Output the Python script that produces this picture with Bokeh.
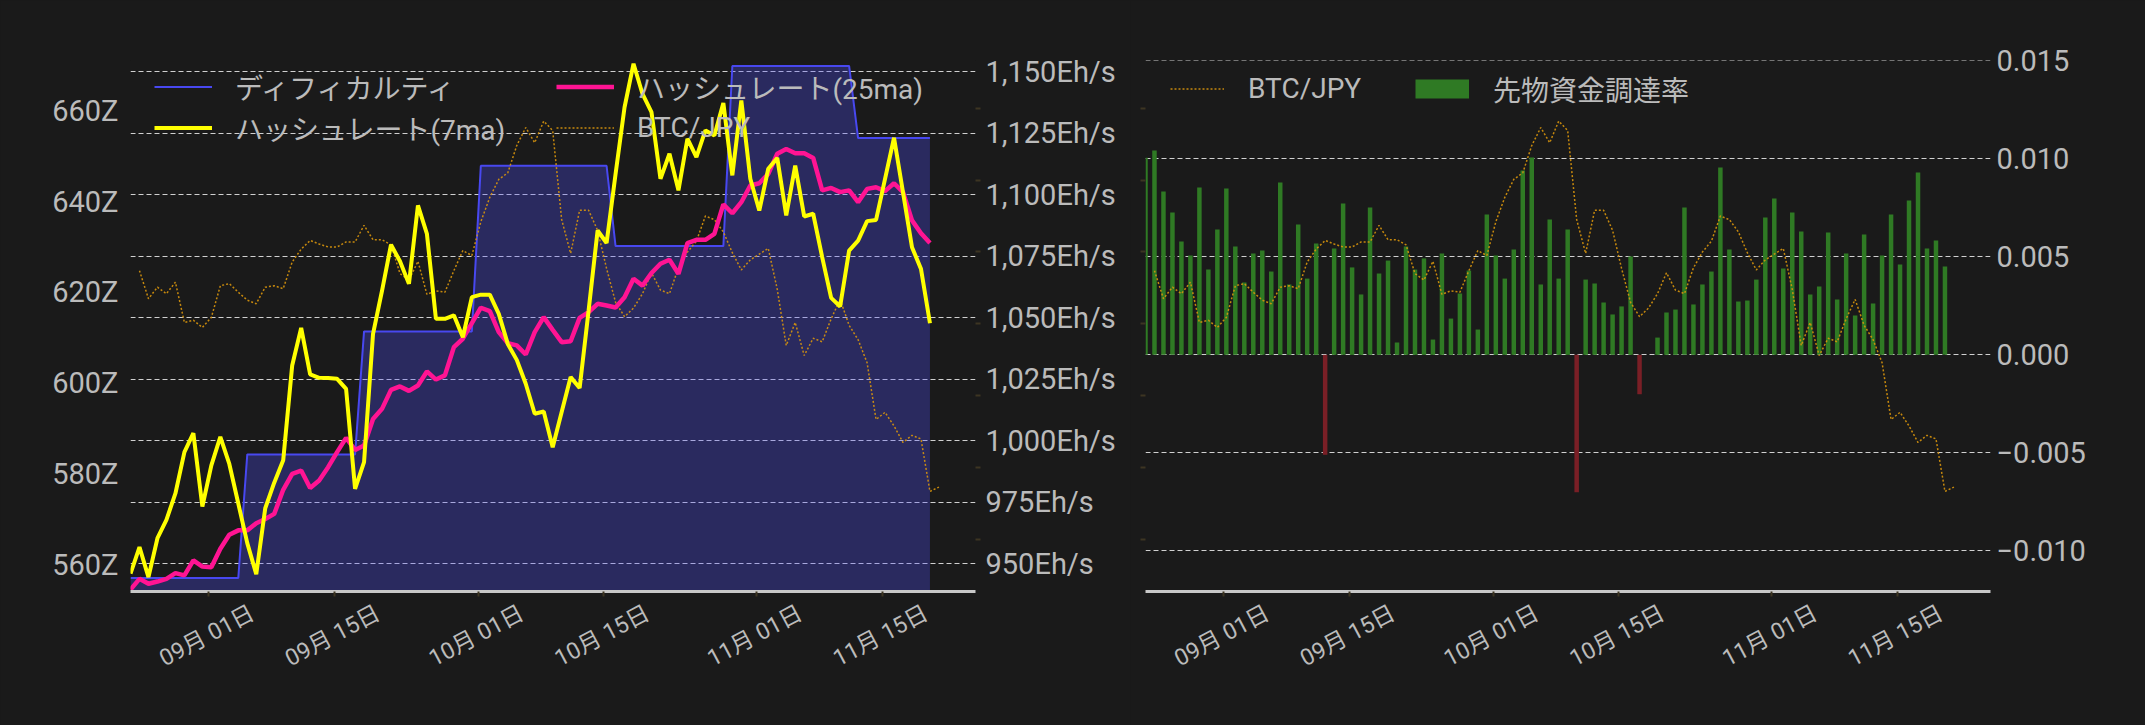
import pandas as pd
from bokeh.plotting import figure
from bokeh.layouts import row
from bokeh.models import (Range1d, LinearAxis, DatetimeAxis, FixedTicker, Grid, Legend,
                          LegendItem, ColumnDataSource)
from bokeh.embed import file_html
from bokeh.resources import INLINE

# ---------------- data ----------------
hash_dates = pd.date_range("2025-08-23 07:00", periods=90, freq="D")
btc_dates = pd.date_range("2025-08-24 07:00", periods=90, freq="D")

hashrate_7ma = [
    946.0, 956.8, 944.6, 960.4, 967.9, 978.6, 995.4, 1003.1, 973.3, 990.0,
    1001.6, 990.6, 974.5, 958.4, 945.8, 972.6, 983.0, 992.1, 1030.6, 1045.9,
    1027.0, 1025.6, 1025.5, 1025.2, 1021.1, 980.5, 991.3, 1043.5, 1061.0, 1079.7,
    1073.0, 1063.8, 1095.7, 1084.1, 1049.6, 1049.6, 1051.0, 1042.1, 1058.4, 1059.4,
    1059.4, 1051.6, 1039.4, 1032.9, 1023.2, 1011.0, 1011.9, 997.4, 1011.7, 1025.9,
    1021.5, 1053.0, 1085.5, 1080.4, 1108.5, 1135.6, 1153.3, 1141.0, 1133.6, 1106.5,
    1116.7, 1101.8, 1122.8, 1115.3, 1126.2, 1124.1, 1137.3, 1107.9, 1138.3, 1106.5,
    1093.6, 1110.6, 1115.0, 1091.6, 1111.9, 1091.2, 1092.3, 1074.7, 1058.1, 1054.6,
    1077.3, 1081.4, 1089.3, 1089.8, 1106.5, 1123.2, 1101.0, 1078.7, 1069.9, 1047.8,
]
hashrate_25ma = [
    939.5, 943.9, 941.9, 942.8, 943.9, 946.2, 945.3, 951.4, 948.9, 948.6,
    956.1, 961.8, 963.6, 963.6, 966.5, 968.2, 970.3, 980.1, 986.6, 987.9,
    980.8, 983.9, 989.3, 995.4, 1001.2, 996.3, 998.1, 1008.9, 1013.0, 1020.7,
    1022.1, 1020.3, 1022.5, 1028.2, 1024.9, 1026.6, 1038.1, 1041.5, 1047.8, 1054.1,
    1052.7, 1044.2, 1039.7, 1038.8, 1035.1, 1044.2, 1050.3, 1045.1, 1040.1, 1040.5,
    1050.0, 1052.3, 1055.7, 1055.0, 1054.2, 1058.4, 1065.9, 1063.1, 1068.2, 1072.0,
    1073.6, 1067.9, 1080.4, 1081.7, 1081.7, 1084.1, 1096.1, 1092.5, 1097.0, 1103.8,
    1104.7, 1108.5, 1116.7, 1118.6, 1116.9, 1116.9, 1115.0, 1101.8, 1102.8, 1101.1,
    1101.8, 1097.0, 1102.4, 1103.1, 1101.5, 1104.7, 1101.1, 1089.6, 1084.4, 1080.4,
]
difficulty_z = ([557.1] * 13 + [584.3] * 13 + [611.4] * 13 + [647.9] * 15
                + [630.2] * 13 + [669.9] * 14 + [654.0] * 9)
btc_jpy_m = [
    16.74, 16.35, 16.51, 16.42, 16.58, 16.02, 16.05, 15.95, 16.09, 16.53,
    16.56, 16.44, 16.33, 16.28, 16.51, 16.53, 16.49, 16.86, 17.04, 17.16,
    17.11, 17.07, 17.07, 17.14, 17.14, 17.37, 17.17, 17.17, 17.10, 16.70,
    16.61, 16.87, 16.41, 16.46, 16.44, 16.74, 17.02, 16.95, 17.42, 17.76,
    18.01, 18.10, 18.48, 18.73, 18.52, 18.82, 18.69, 17.45, 16.98, 17.58,
    17.58, 17.30, 16.77, 16.30, 16.10, 16.22, 16.42, 16.71, 16.47, 16.42,
    16.78, 17.00, 17.15, 17.50, 17.45, 17.28, 16.99, 16.75, 16.89, 16.97,
    17.05, 16.48, 15.70, 16.02, 15.56, 15.80, 15.75, 16.07, 16.34, 15.98,
    15.78, 15.46, 14.67, 14.77, 14.58, 14.35, 14.45, 14.40, 13.67, 13.73,
]
funding_rate = [
    0.01005, 0.01043, 0.00833, 0.00726, 0.00578, 0.00507, 0.00854, 0.00435, 0.00639, 0.00849,
    0.00553, 0.00369, 0.00517, 0.00532, 0.00425, 0.00879, 0.00359, 0.00665, 0.00389, 0.00568,
    -0.00510, 0.00543, 0.00772, 0.00446, 0.00308, 0.00752, 0.00415, 0.00481, 0.00063, 0.00553,
    0.00435, 0.00492, 0.00078, 0.00517, 0.00185, 0.00313, 0.00430, 0.00129, 0.00716, 0.00507,
    0.00389, 0.00537, 0.00940, 0.01007, 0.00359, 0.00690, 0.00389, 0.00639, -0.00701, 0.00384,
    0.00364, 0.00267, 0.00206, 0.00247, 0.00502, -0.00201, 0.0, 0.00088, 0.00216, 0.00231,
    0.00752, 0.00257, 0.00359, 0.00425, 0.00956, 0.00537, 0.00272, 0.00277, 0.00384, 0.00701,
    0.00798, 0.00440, 0.00726, 0.00629, 0.00308, 0.00349, 0.00624, 0.00282, 0.00517, 0.00201,
    0.00614, 0.00262, 0.00507, 0.00716, 0.00461, 0.00787, 0.00930, 0.00543, 0.00583, 0.00451,
]

tick_dates = ["2025-09-01", "2025-09-15", "2025-10-01", "2025-10-15", "2025-11-01", "2025-11-15"]
tick_labels = ["09月 01日", "09月 15日", "10月 01日", "10月 15日", "11月 01日", "11月 15日"]
hash_ticks = [950, 975, 1000, 1025, 1050, 1075, 1100, 1125, 1150]
z_ticks = [560, 580, 600, 620, 640, 660]
btc_ticks = [13, 14, 15, 16, 17, 18, 19]
fund_ticks = [-0.010, -0.005, 0.0, 0.005, 0.010, 0.015]
fund_labels = ["\u22120.010", "\u22120.005", "0.000", "0.005", "0.010", "0.015"]

# ---------------- ranges / style ----------------
HASH_MIN, HASH_MAX = 938.75, 1154.6
Z_MIN, Z_MAX = 554.1, 671.1
BTC_MIN, BTC_MAX = 12.278, 19.663
FUND_MIN, FUND_MAX = -0.012075, 0.015017
X_SPAN_DAYS = 94.07
LABEL_SHIFT_DAYS = 4.88     # rotated labels are anchored at their right end; centre them on the tick

BG = "#1a1a1a"
TXT = "#bbbbbb"
TICK_DARK = "#3d3522"
GRID = "#d0d0d0"
GREEN = "#2f7a24"
RED = "#7a1f26"
FONT = "Roboto, 'Noto Sans CJK JP', sans-serif"
H = 725
W1, W2 = 1130, 1015
FRAME_L1, FRAME_R1 = 130, 975
FRAME_L2, FRAME_R2 = 1145 - W1, 1990 - W1
FRAME_T, FRAME_B = 60, 591

x_start = hash_dates[0]
x_end = x_start + pd.Timedelta(days=X_SPAN_DAYS)
shift = pd.Timedelta(days=LABEL_SHIFT_DAYS)
tick_ms = [pd.Timestamp(d).timestamp() * 1000.0 for d in tick_dates]
BAR_W = 0.5 * 86400000.0


def base_fig(width, yr, ml, mr):
    p = figure(width=width, height=H, x_axis_type="datetime",
               x_range=Range1d(x_start, x_end), y_range=yr, y_axis_location=None,
               output_backend="svg", toolbar_location=None,
               min_border_left=ml, min_border_right=mr,
               min_border_top=FRAME_T, min_border_bottom=H - FRAME_B,
               background_fill_color=BG, border_fill_color=BG, outline_line_color=None)
    p.xgrid.visible = False
    p.ygrid.visible = False
    ax = p.xaxis[0]
    ax.ticker = FixedTicker(ticks=tick_ms)
    ax.major_label_overrides = {t: "" for t in tick_ms}
    ax.major_label_text_font_size = "0px"
    ax.major_label_standoff = 0
    ax.axis_line_color = "#c8c8c8"
    ax.axis_line_width = 3
    ax.major_tick_line_color = TICK_DARK
    ax.major_tick_line_width = 2
    ax.major_tick_out = 5
    ax.major_tick_in = 0
    ax.minor_tick_line_color = None
    # label axis (same tick dates, shifted range so the rotated text is centred on the tick)
    p.extra_x_ranges = {"lbl": Range1d(x_start - shift, x_end - shift)}
    lax = DatetimeAxis(x_range_name="lbl", ticker=FixedTicker(ticks=tick_ms),
                       major_label_overrides=dict(zip(tick_ms, tick_labels)),
                       major_label_orientation=0.49, axis_line_color=None,
                       major_tick_line_color=None, minor_tick_line_color=None,
                       major_tick_out=0, major_tick_in=0, major_label_standoff=15,
                       major_label_text_font=FONT, major_label_text_font_size="23px",
                       major_label_text_color=TXT)
    p.add_layout(lax, "below")
    return p


def value_axis(ticks, labels, range_name, standoff):
    return LinearAxis(y_range_name=range_name, ticker=FixedTicker(ticks=ticks),
                      major_label_overrides=dict(zip(ticks, labels)),
                      axis_line_color=None, major_tick_line_color=None,
                      minor_tick_line_color=None, major_tick_out=0, major_tick_in=0,
                      major_label_standoff=standoff, major_label_text_font=FONT,
                      major_label_text_font_size="29px", major_label_text_color=TXT)


def hidden_btc_axis():
    return LinearAxis(y_range_name="btc", ticker=FixedTicker(ticks=btc_ticks),
                      major_label_overrides={t: "" for t in btc_ticks},
                      major_label_text_font_size="0px",
                      axis_line_color=None, major_tick_line_color=TICK_DARK,
                      major_tick_line_width=2, major_tick_out=5, major_tick_in=0,
                      minor_tick_line_color=None, major_label_standoff=0)


def legend(items, loc, **kw):
    return Legend(items=items, location=loc, padding=0, margin=0, border_line_color=None,
                  background_fill_alpha=0, label_text_font=FONT, label_text_font_size="28px",
                  label_text_color=TXT, glyph_height=47, label_height=47, **kw)


# ---------------- left chart ----------------
p1 = base_fig(W1, Range1d(HASH_MIN, HASH_MAX), FRAME_L1, W1 - FRAME_R1)
p1.extra_y_ranges = {"z": Range1d(Z_MIN, Z_MAX), "btc": Range1d(BTC_MIN, BTC_MAX)}
p1.add_layout(Grid(dimension=1, ticker=FixedTicker(ticks=hash_ticks), grid_line_color=GRID,
                   grid_line_dash="5 3", grid_line_width=1))

src1 = ColumnDataSource(dict(x=hash_dates, h7=hashrate_7ma, h25=hashrate_25ma, diff=difficulty_z))
srcb = ColumnDataSource(dict(x=btc_dates, btc=btc_jpy_m))

p1.varea(x="x", y1=Z_MIN, y2="diff", source=src1, y_range_name="z",
         fill_color=(80, 80, 255), fill_alpha=0.3)
r_diff = p1.line("x", "diff", source=src1, y_range_name="z", line_color="#4848f0", line_width=2)
r_btc1 = p1.line("x", "btc", source=srcb, y_range_name="btc", line_color="#d8950c",
                 line_width=1.5, line_dash="2 2", line_alpha=0.9)
r_h25 = p1.line("x", "h25", source=src1, line_color="#ff1493", line_width=4.5)
r_h7 = p1.line("x", "h7", source=src1, line_color="#ffff00", line_width=4)

p1.add_layout(value_axis(z_ticks, [f"{t}Z" for t in z_ticks], "z", 12), "left")
p1.add_layout(hidden_btc_axis(), "right")
p1.add_layout(value_axis(hash_ticks, [f"{t:,}Eh/s" for t in hash_ticks], "default", 5), "right")

lkw = dict(glyph_width=58, label_standoff=23)
p1.add_layout(legend([LegendItem(label="ディフィカルティ", renderers=[r_diff])], (24, 481), **lkw))
p1.add_layout(legend([LegendItem(label="ハッシュレート(7ma)", renderers=[r_h7])], (24, 440), **lkw))
p1.add_layout(legend([LegendItem(label="ハッシュレート(25ma)", renderers=[r_h25])], (426, 481), **lkw))
p1.add_layout(legend([LegendItem(label="BTC/JPY", renderers=[r_btc1])], (426, 440), **lkw))

# ---------------- right chart ----------------
p2 = base_fig(W2, Range1d(FUND_MIN, FUND_MAX), FRAME_L2, W2 - FRAME_R2)
p2.extra_y_ranges = {"btc": Range1d(BTC_MIN, BTC_MAX)}
p2.add_layout(Grid(dimension=1, ticker=FixedTicker(ticks=fund_ticks), grid_line_color=GRID,
                   grid_line_dash="5 3", grid_line_width=1))

bar_colors = [GREEN if v >= 0 else RED for v in funding_rate]
src2 = ColumnDataSource(dict(x=hash_dates, fr=funding_rate, c=bar_colors))
r_bar = p2.vbar(x="x", top="fr", bottom=0, width=BAR_W, source=src2,
                fill_color="c", line_color=None)
r_btc2 = p2.line("x", "btc", source=srcb, y_range_name="btc", line_color="#d8950c",
                 line_width=1.5, line_dash="2 2", line_alpha=0.9)
# legend swatch for the bar series (a wide flat block, like the original's legend box);
# it holds no visible data point, only its style is used by the legend
r_swatch = p2.line(x=[float("nan")], y=[float("nan")], line_color=GREEN,
                   line_width=19, line_cap="butt")

p2.add_layout(hidden_btc_axis(), "left")
p2.add_layout(value_axis(fund_ticks, fund_labels, "default", 6), "right")

p2.add_layout(legend([LegendItem(label="BTC/JPY", renderers=[r_btc2]),
                      LegendItem(label="先物資金調達率", renderers=[r_swatch], index=0)],
                     (25, 479), orientation="horizontal", glyph_width=54,
                     label_standoff=24, spacing=54))

layout = row(p1, p2)
html = file_html(layout, INLINE, title="chart")
html = html.replace("</head>", "<style>html, body { background: #1a1a1a; }</style></head>", 1)
open("out.html", "w").write(html)
